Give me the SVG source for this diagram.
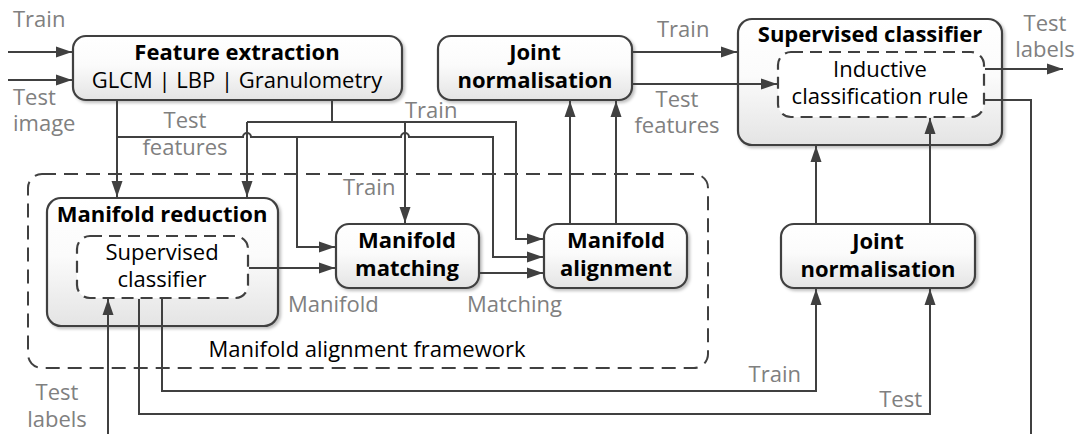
<svg xmlns="http://www.w3.org/2000/svg" width="1083" height="434" viewBox="0 0 1083 434">
<style>
.box{stroke:#404040;stroke-width:2.2;fill:url(#g)}
.inner{stroke:#404040;stroke-width:2.2;fill:#fff;stroke-dasharray:12 7}
.frame{stroke:#404040;stroke-width:2;fill:none;stroke-dasharray:14 8}
.c{stroke:#404040;stroke-width:2;fill:none}
.a{marker-end:url(#ah)}
.t{font-family:"Open Sans","Liberation Sans",sans-serif;font-size:22px;fill:#000;text-anchor:middle}
.b{font-weight:bold}
.l{font-family:"Open Sans","Liberation Sans",sans-serif;font-size:22px;fill:#808080}
</style>
<defs>
<linearGradient id="g" x1="0" y1="0" x2="0" y2="1">
<stop offset="0" stop-color="#ffffff"/>
<stop offset="0.45" stop-color="#fbfbfb"/>
<stop offset="1" stop-color="#e4e4e4"/>
</linearGradient>
<filter id="sh" x="-5%" y="-5%" width="115%" height="125%">
<feDropShadow dx="2" dy="2" stdDeviation="1.5" flood-color="#000" flood-opacity="0.25"/>
</filter>
<marker id="ah" markerUnits="userSpaceOnUse" markerWidth="18" markerHeight="12" refX="16" refY="6" orient="auto">
<path d="M0,0.5 L16,6 L0,11.5 z" fill="#404040"/>
</marker>
</defs>

<rect class="frame" x="28" y="174" width="680" height="194" rx="14"/>
<text class="t" x="367" y="357">Manifold alignment framework</text>

<g id="feature-extraction">
<rect class="box" filter="url(#sh)" x="73" y="36" width="329" height="64" rx="13"/>
<text class="t b" x="237" y="60">Feature extraction</text>
<text class="t" x="237" y="88">GLCM | LBP | Granulometry</text>
</g>

<g id="joint-normalisation-top">
<rect class="box" filter="url(#sh)" x="438" y="36" width="194" height="64" rx="13"/>
<text class="t b" x="535" y="60">Joint</text>
<text class="t b" x="535" y="88">normalisation</text>
</g>

<g id="supervised-classifier-top">
<rect class="box" filter="url(#sh)" x="738" y="19" width="264" height="126" rx="14"/>
<text class="t b" x="870" y="42">Supervised classifier</text>
<rect class="inner" x="778" y="52" width="206" height="65" rx="13"/>
<text class="t" x="880" y="77">Inductive</text>
<text class="t" x="880" y="104">classification rule</text>
</g>

<g id="manifold-reduction">
<rect class="box" filter="url(#sh)" x="47" y="198" width="231" height="128" rx="14"/>
<text class="t b" x="162" y="222">Manifold reduction</text>
<rect class="inner" x="77" y="236" width="171" height="62" rx="13"/>
<text class="t" x="162" y="260">Supervised</text>
<text class="t" x="162" y="287">classifier</text>
</g>

<g id="manifold-matching">
<rect class="box" filter="url(#sh)" x="336" y="224" width="143" height="64" rx="13"/>
<text class="t b" x="407" y="248">Manifold</text>
<text class="t b" x="407" y="276">matching</text>
</g>

<g id="manifold-alignment">
<rect class="box" filter="url(#sh)" x="544" y="224" width="143" height="64" rx="13"/>
<text class="t b" x="616" y="248">Manifold</text>
<text class="t b" x="616" y="276">alignment</text>
</g>

<g id="joint-normalisation-bottom">
<rect class="box" filter="url(#sh)" x="781" y="224" width="194" height="64" rx="13"/>
<text class="t b" x="878" y="249">Joint</text>
<text class="t b" x="878" y="277">normalisation</text>
</g>

<g id="connectors">
<path class="c a" d="M8,52 H72"/>
<path class="c a" d="M8,80 H72"/>
<path class="c a" d="M117,101 V197"/>
<path class="c a" d="M117,137 H243 a4,4 0 0 1 8,0 H401 a4,4 0 0 1 8,0 H493 V257 H543"/>
<path class="c a" d="M297,137 V247 H335"/>
<path class="c" d="M332,101 V122"/>
<path class="c a" d="M247,122 H516 V239 H543"/>
<path class="c a" d="M247,122 V197"/>
<path class="c a" d="M405,122 V223"/>
<path class="c a" d="M249,268 H335"/>
<path class="c a" d="M480,273 H543"/>
<path class="c a" d="M570,223 V101"/>
<path class="c a" d="M616,223 V101"/>
<path class="c a" d="M633,52 H737"/>
<path class="c a" d="M633,84 H777"/>
<path class="c a" d="M985,69 H1063"/>
<path class="c" d="M985,100 H1031 V434"/>
<path class="c a" d="M162,299 V391 H816 V289"/>
<path class="c a" d="M139,299 V414 H930 V289"/>
<path class="c a" d="M108,434 V299"/>
<path class="c a" d="M816,223 V146"/>
<path class="c a" d="M930,223 V118"/>
</g>

<g id="labels">
<text class="l" x="13" y="27">Train</text>
<text class="l" x="13" y="105">Test</text>
<text class="l" x="13" y="131">image</text>
<text class="l" x="185" y="128" text-anchor="middle">Test</text>
<text class="l" x="185" y="155" text-anchor="middle">features</text>
<text class="l" x="405" y="118">Train</text>
<text class="l" x="343" y="195">Train</text>
<text class="l" x="657" y="37">Train</text>
<text class="l" x="677" y="107" text-anchor="middle">Test</text>
<text class="l" x="677" y="133" text-anchor="middle">features</text>
<text class="l" x="1045" y="31" text-anchor="middle">Test</text>
<text class="l" x="1045" y="57" text-anchor="middle">labels</text>
<text class="l" x="288" y="312">Manifold</text>
<text class="l" x="467" y="312">Matching</text>
<text class="l" x="57" y="400" text-anchor="middle">Test</text>
<text class="l" x="57" y="427" text-anchor="middle">labels</text>
<text class="l" x="801" y="382" text-anchor="end">Train</text>
<text class="l" x="922" y="407" text-anchor="end">Test</text>
</g>
</svg>
